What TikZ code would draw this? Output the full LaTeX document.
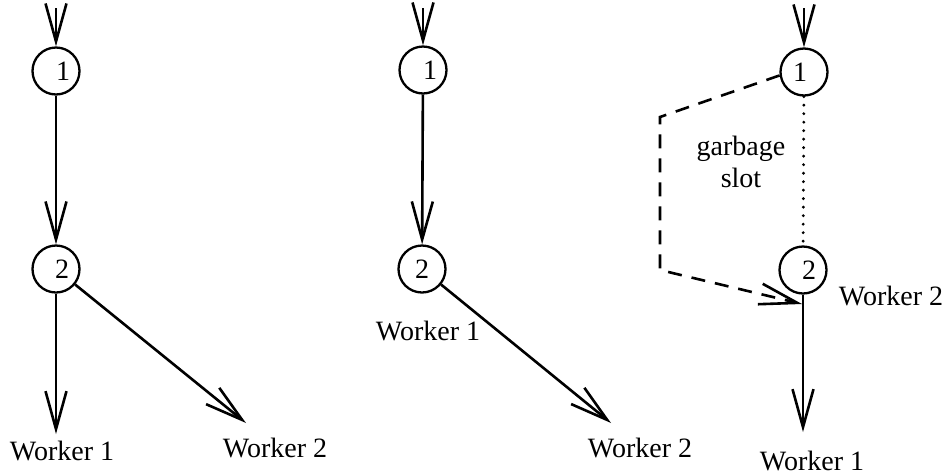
\documentclass[tikz,border=0pt]{standalone}
\usepackage{fontspec}
\setmainfont{Liberation Serif}
\usetikzlibrary{arrows.meta}
\begin{document}
\begin{tikzpicture}[x=1pt,y=-1pt,
  st/.style={circle,draw,line width=2.3pt,minimum size=47pt,inner sep=0pt,font=\fontsize{28}{32}\selectfont},
  lbl/.style={font=\fontsize{28}{32}\selectfont,inner sep=0pt,anchor=base},
  arr/.style={line width=2.6pt,-{Straight Barb[length=38pt,width=21pt]}},
  dashline/.style={line width=2.6pt,dash pattern=on 14pt off 10pt},
  dotline/.style={line width=3.2pt,line cap=round,dash pattern=on 0pt off 8.5pt}
]
\fill[white] (0,0) rectangle (950,475);
\useasboundingbox (0,0) rectangle (950,475);
% panel 1
\node[st] (a1) at (56,71) {\hspace*{14pt}1};
\node[st] (a2) at (56,269) {\hspace*{12pt}2};
\coordinate (a0) at (56,8);
\coordinate (aw1) at (56,434);
\coordinate (aw2) at (246,423);
\draw[arr] (a0) -- (a1);
\draw[arr] (a1) -- (a2);
\draw[arr] (a2) -- (aw1);
\draw[arr] (a2) -- (aw2);
\node[lbl] (la1) at (62,460) {Worker 1};
\node[lbl] (la2) at (275,457) {Worker 2};
% panel 2
\node[st] (b1) at (423,70) {\hspace*{14pt}1};
\node[st] (b2) at (422,269) {2};
\coordinate (b0) at (423,8);
\coordinate (bw2) at (611,423);
\draw[arr] (b0) -- (b1);
\draw[arr] (b1) -- (b2);
\draw[arr] (b2) -- (bw2);
\node[lbl] (lb1) at (428,340) {Worker 1};
\node[lbl] (lb2) at (640,457) {Worker 2};
% panel 3
\node[st] (c1) at (804,72) {1\hspace*{8pt}};
\node[st] (c2) at (803,270) {\hspace*{12pt}2};
\coordinate (c0) at (804,8);
\coordinate (cbend1) at (660,117);
\coordinate (cbend2) at (660,270);
\coordinate (ctip) at (802,304);
\coordinate (cw1) at (803,432);
\draw[arr] (c0) -- (c1);
\draw[dotline] (c1) -- (c2);
\draw[dashline,-{Straight Barb[length=38pt,width=21pt]}] (c1.188) -- (cbend1) -- (cbend2) -- (ctip);
\draw[arr] (c2) -- (cw1);
\node[lbl] (lc2) at (891,305) {Worker 2};
\node[lbl] (lc1) at (812,470) {Worker 1};
\node[font=\fontsize{28}{32}\selectfont,inner sep=0pt,align=center] (gs) at (741,162) {garbage\\slot};
\end{tikzpicture}
\end{document}
